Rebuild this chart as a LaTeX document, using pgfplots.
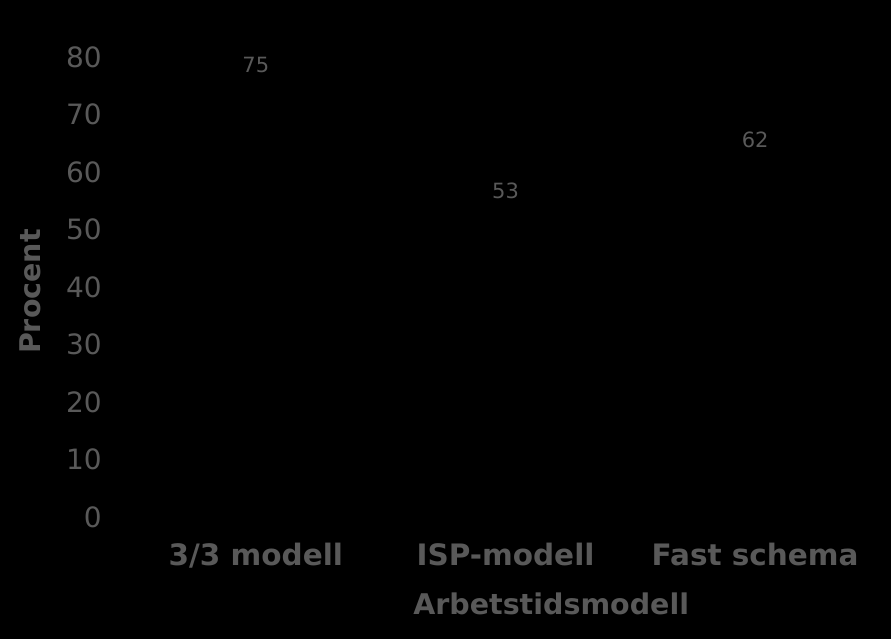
\documentclass[border=0pt]{standalone}
\usepackage{pgfplots}
\pgfplotsset{compat=1.18}
\usepackage{fontspec}
\setmainfont{DejaVu Sans}
\definecolor{txtgrey}{HTML}{595959}

\begin{document}
\begin{tikzpicture}
% black page behind the chart
\fill[black] (0,0) rectangle (891bp,639bp);
\useasboundingbox (0,0) rectangle (891bp,639bp);
\begin{axis}[
  at={(131bp,122bp)}, anchor=south west,
  scale only axis,
  width=749bp, height=460bp,
  xmin=-0.5, xmax=2.5,
  ymin=0, ymax=80,
  ytick={0,10,...,80},
  xtick=data,
  xticklabels={3/3 modell, ISP-modell, Fast schema},
  axis line style={draw=none},
  major tick style={draw=none},
  /pgf/number format/assume math mode=true,
  yticklabel style={font=\fontsize{28bp}{30bp}\selectfont, text=txtgrey, anchor=east, inner sep=0pt, xshift=-29bp},
  xticklabel style={font=\fontsize{29.5bp}{32bp}\selectfont\bfseries, text=txtgrey, anchor=north, inner sep=0pt, yshift=-22bp},
  ylabel={Procent},
  ylabel style={font=\fontsize{28.5bp}{30bp}\selectfont\bfseries, text=txtgrey, at={(axis description cs:-0.135,0.49)}, anchor=center, rotate=0},
  xlabel={Arbetstidsmodell},
  xlabel style={font=\fontsize{28.5bp}{30bp}\selectfont\bfseries, text=txtgrey, at={(axis description cs:0.561,0)}, anchor=center, yshift=-87bp},
  ybar, bar width=130bp,
  nodes near coords,
  every node near coord/.append style={font=\fontsize{21bp}{23bp}\selectfont, text=txtgrey, inner sep=0pt, yshift=13bp},
]
\addplot[fill=black, draw=none] coordinates {(0,75) (1,53) (2,62)};
\end{axis}
\end{tikzpicture}
\end{document}
